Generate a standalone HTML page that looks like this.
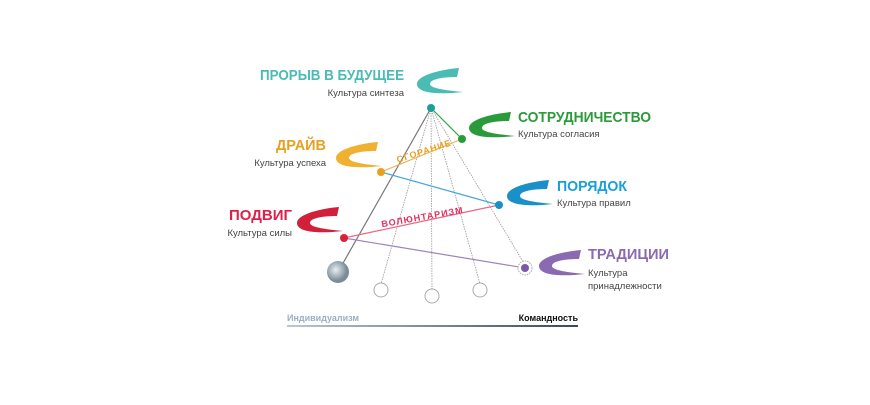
<!DOCTYPE html>
<html><head><meta charset="utf-8"><style>
body{margin:0;background:#fff;}
svg text{font-family:"Liberation Sans",sans-serif;}
.t{font-weight:bold;font-size:15px;}
.s{font-size:9.5px;fill:#444;}
</style></head><body>
<svg width="870" height="400" viewBox="0 0 870 400">
<defs>
<symbol id="sw" viewBox="0 0 48 28"><path d="M44,0 C22,2 2,8 2,16 C2,25 22,27 48,24 C28,22 15,20 15,16 C15,11 28,9 42,9 Z"/></symbol>
<linearGradient id="ax" x1="0" x2="1"><stop offset="0" stop-color="#b8c8d4"/><stop offset="1" stop-color="#3a4a5a"/></linearGradient>
<radialGradient id="ball" cx="0.4" cy="0.4"><stop offset="0" stop-color="#e8eef2"/><stop offset="1" stop-color="#7a8c98"/></radialGradient>
</defs>
<g stroke="#999" stroke-width="0.8" fill="none">
<line x1="431" y1="108" x2="338" y2="272" stroke="#777" stroke-width="1.2"/>
<line x1="431" y1="108" x2="381" y2="284" stroke-dasharray="1.5,1"/>
<line x1="431" y1="108" x2="432" y2="290" stroke-dasharray="1.5,1"/>
<line x1="431" y1="108" x2="480" y2="284" stroke-dasharray="1.5,1"/>
<line x1="431" y1="108" x2="525" y2="265" stroke-dasharray="1.5,1"/>
</g>
<g stroke-width="1.2">
<line x1="462" y1="139" x2="431" y2="108" stroke="#3aa64a"/>
<line x1="381" y1="172" x2="462" y2="139" stroke="#f0b050"/>
<line x1="499" y1="205" x2="381" y2="172" stroke="#49a8dc"/>
<line x1="344" y1="238" x2="499" y2="205" stroke="#e86a80"/>
<line x1="525" y1="268" x2="344" y2="238" stroke="#9a84c0"/>
</g>
<circle cx="338" cy="272" r="11" fill="url(#ball)"/>
<g fill="#fff" stroke="#aaa" stroke-width="1"><circle cx="381" cy="290" r="7"/><circle cx="432" cy="296" r="7"/><circle cx="480" cy="290" r="7"/><circle cx="525" cy="268" r="7" stroke-dasharray="1.5,1"/></g>
<circle cx="431" cy="108" r="4" fill="#1aa09a"/>
<circle cx="462" cy="139" r="4" fill="#2a9a3a"/>
<circle cx="381" cy="172" r="4" fill="#e8a020"/>
<circle cx="499" cy="205" r="4" fill="#1a90c8"/>
<circle cx="344" cy="238" r="4" fill="#d8203a"/>
<circle cx="525" cy="268" r="4" fill="#7a5aa8"/>
<text x="425" y="154" transform="rotate(-18 425 154)" font-size="9" font-weight="bold" fill="#e8a020" text-anchor="middle" letter-spacing="1">СГОРАНИЕ</text>
<text x="423" y="220" transform="rotate(-10 423 220)" font-size="9" font-weight="bold" fill="#e03060" text-anchor="middle" letter-spacing="1">ВОЛЮНТАРИЗМ</text>
<use href="#sw" x="415" y="68" width="48" height="28" fill="#4bbcb4"/>
<use href="#sw" x="467" y="112" width="48" height="28" fill="#2a9a3a"/>
<use href="#sw" x="334" y="142" width="48" height="28" fill="#f0b030"/>
<use href="#sw" x="505" y="180" width="48" height="28" fill="#1a90c8"/>
<use href="#sw" x="295" y="207" width="48" height="28" fill="#d0203a"/>
<use href="#sw" x="537" y="250" width="48" height="28" fill="#8a6ab0"/>
<text class="t" x="260" y="80" textLength="144" lengthAdjust="spacingAndGlyphs" fill="#4bbcb4">ПРОРЫВ В БУДУЩЕЕ</text>
<text class="s" x="404" y="96" text-anchor="end">Культура синтеза</text>
<text class="t" x="518" y="122" textLength="133" lengthAdjust="spacingAndGlyphs" fill="#2a9a3a">СОТРУДНИЧЕСТВО</text>
<text class="s" x="518" y="137">Культура согласия</text>
<text class="t" x="276" y="150" textLength="50" lengthAdjust="spacingAndGlyphs" fill="#e8a020">ДРАЙВ</text>
<text class="s" x="326" y="166" text-anchor="end">Культура успеха</text>
<text class="t" x="557" y="191" textLength="70" lengthAdjust="spacingAndGlyphs" fill="#1aa0d8">ПОРЯДОК</text>
<text class="s" x="557" y="206">Культура правил</text>
<text class="t" x="229" y="220" textLength="63" lengthAdjust="spacingAndGlyphs" fill="#e0204a">ПОДВИГ</text>
<text class="s" x="292" y="236" text-anchor="end">Культура силы</text>
<text class="t" x="588" y="259" textLength="81" lengthAdjust="spacingAndGlyphs" fill="#8a6ab0">ТРАДИЦИИ</text>
<text class="s" x="588" y="276">Культура</text>
<text class="s" x="588" y="289">принадлежности</text>
<text x="287" y="321" font-size="9" font-weight="bold" fill="#9ab0c0">Индивидуализм</text>
<text x="578" y="321" font-size="9" font-weight="bold" fill="#111" text-anchor="end">Командность</text>
<rect x="287" y="325" width="291" height="2" fill="url(#ax)"/>
</svg>
</body></html>
